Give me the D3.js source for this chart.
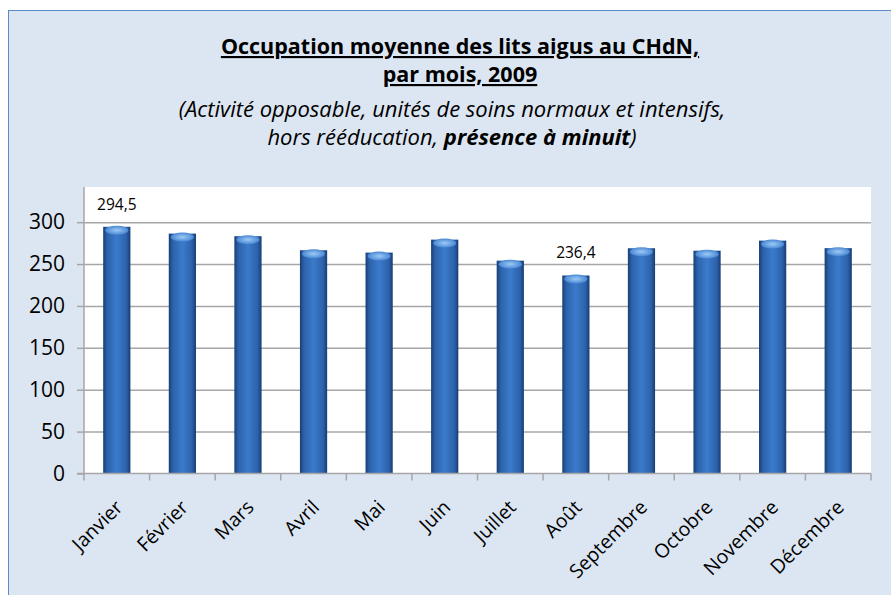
<!DOCTYPE html>
<html>
<head>
<meta charset="utf-8">
<script src="https://cdn.jsdelivr.net/npm/d3@7"></script>
<style>
  body { margin: 0; background: #fff; }
  svg { display: block; }
  text { font-family: "Open Sans", "DejaVu Sans", sans-serif; }
</style>
</head>
<body>
<svg id="chart" width="891" height="595"></svg>
<script>
// Data
const months = ["Janvier", "Février", "Mars", "Avril", "Mai", "Juin", "Juillet", "Août", "Septembre", "Octobre", "Novembre", "Décembre"];
const occupancy = [294.5, 286.4, 283.3, 266.5, 263.7, 279.2, 254.1, 236.4, 268.9, 266.0, 278.0, 269.0];
const labelled = ["Janvier", "Août"];
const yTicks = [0, 50, 100, 150, 200, 250, 300];

const svg = d3.select("#chart");

// Chart area background
svg.append("rect")
    .attr("x", 8.5).attr("y", 10.5)
    .attr("width", 900).attr("height", 600)
    .attr("fill", "#dce6f2")
    .attr("stroke", "#5b8bc9")
    .attr("stroke-width", 1);

// Plot area
const plot = { left: 84, top: 187, right: 871, bottom: 473.5 };

const x = d3.scaleBand()
    .domain(months)
    .range([plot.left, plot.right])
    .paddingInner(0.585)
    .paddingOuter(0.2925);

const y = d3.scaleLinear()
    .domain([0, 342])
    .range([plot.bottom, plot.top]);

svg.append("rect")
    .attr("x", plot.left).attr("y", plot.top)
    .attr("width", plot.right - plot.left)
    .attr("height", plot.bottom - plot.top)
    .attr("fill", "#ffffff");

// Gradient for bars
const defs = svg.append("defs");
const grad = defs.append("linearGradient").attr("id", "barGrad")
    .attr("x1", "0%").attr("x2", "100%").attr("y1", "0%").attr("y2", "0%");
grad.append("stop").attr("offset", "0%").attr("stop-color", "#183f75");
grad.append("stop").attr("offset", "15%").attr("stop-color", "#2c62ab");
grad.append("stop").attr("offset", "50%").attr("stop-color", "#3b7bcb");
grad.append("stop").attr("offset", "85%").attr("stop-color", "#2c62ab");
grad.append("stop").attr("offset", "100%").attr("stop-color", "#173d72");

const capGrad = defs.append("radialGradient").attr("id", "capGrad");
capGrad.append("stop").attr("offset", "0%").attr("stop-color", "#9ccaf5");
capGrad.append("stop").attr("offset", "100%").attr("stop-color", "#4a88d4");

// Gridlines
svg.append("g")
    .attr("class", "grid")
    .attr("transform", "translate(" + plot.left + ",0)")
    .call(d3.axisLeft(y).tickValues(yTicks.filter(d => d > 0)).tickSize(-(plot.right - plot.left)).tickFormat(""))
    .call(g => g.select(".domain").remove())
    .call(g => g.selectAll("line").attr("stroke", "#a6a6a6").attr("stroke-width", 1.5));

// Bars
const bars = svg.selectAll(".bar")
    .data(months)
    .enter()
    .append("g")
    .attr("class", "bar");

bars.append("rect")
    .attr("x", d => x(d))
    .attr("y", (d, i) => y(occupancy[i]))
    .attr("width", x.bandwidth())
    .attr("height", (d, i) => plot.bottom - y(occupancy[i]))
    .attr("fill", "url(#barGrad)");

bars.append("ellipse")
    .attr("cx", d => x(d) + x.bandwidth() / 2)
    .attr("cy", (d, i) => y(occupancy[i]) + 3.5)
    .attr("rx", x.bandwidth() / 2 - 2)
    .attr("ry", 4.5)
    .attr("fill", "url(#capGrad)");

// Y axis
const yAxis = svg.append("g")
    .attr("transform", "translate(" + plot.left + ",0)")
    .call(d3.axisLeft(y).tickValues(yTicks).tickSize(7).tickPadding(12));
yAxis.select(".domain").attr("stroke", "#a6a6a6").attr("stroke-width", 1.5)
    .attr("d", "M0," + plot.top + "V" + plot.bottom);
yAxis.selectAll("line").attr("stroke", "#a6a6a6").attr("stroke-width", 1.5);
yAxis.selectAll("text")
    .attr("fill", "#000")
    .style("font-size", "21px");

// X axis
const xAxis = svg.append("g")
    .attr("transform", "translate(0," + plot.bottom + ")");
xAxis.append("line")
    .attr("x1", plot.left - 7).attr("x2", plot.right)
    .attr("stroke", "#a6a6a6").attr("stroke-width", 1.5);
xAxis.selectAll(".tick")
    .data(d3.range(months.length + 1))
    .enter()
    .append("line")
    .attr("x1", i => plot.left + i * x.step())
    .attr("x2", i => plot.left + i * x.step())
    .attr("y1", 0).attr("y2", 7)
    .attr("stroke", "#a6a6a6").attr("stroke-width", 1.5);

xAxis.selectAll(".label")
    .data(months)
    .enter()
    .append("text")
    .attr("class", "label")
    .attr("text-anchor", "end")
    .attr("transform", d => "translate(" + (x(d) + x.bandwidth() / 2 + 7) + ",35) rotate(-45)")
    .style("font-size", "19.5px")
    .attr("fill", "#000")
    .text(d => d);

// Data labels
svg.selectAll(".dlabel")
    .data(months.filter(m => labelled.includes(m)))
    .enter()
    .append("text")
    .attr("class", "dlabel")
    .attr("x", d => x(d) + x.bandwidth() / 2)
    .attr("y", d => y(occupancy[months.indexOf(d)]) - 17)
    .attr("text-anchor", "middle")
    .style("font-size", "15.5px")
    .attr("fill", "#000")
    .text(d => occupancy[months.indexOf(d)].toFixed(1).replace(".", ","));

// Title
const title = svg.append("text")
    .attr("x", 460)
    .attr("text-anchor", "middle")
    .style("font-size", "21.5px")
    .style("font-weight", "bold")
    .style("text-decoration", "underline");
title.append("tspan").attr("x", 460).attr("y", 54).text("Occupation moyenne des lits aigus au CHdN,");
title.append("tspan").attr("x", 460).attr("y", 82).text("par mois, 2009");

const sub = svg.append("text")
    .attr("x", 452)
    .attr("text-anchor", "middle")
    .style("font-size", "22px")
    .style("font-style", "italic");
sub.append("tspan").attr("x", 452).attr("y", 117).text("(Activité opposable, unités de soins normaux et intensifs,");
const l2 = sub.append("tspan").attr("x", 452).attr("y", 145);
l2.append("tspan").text("hors rééducation, ");
l2.append("tspan").style("font-weight", "bold").text("présence à minuit");
l2.append("tspan").text(")");
</script>
</body>
</html>
